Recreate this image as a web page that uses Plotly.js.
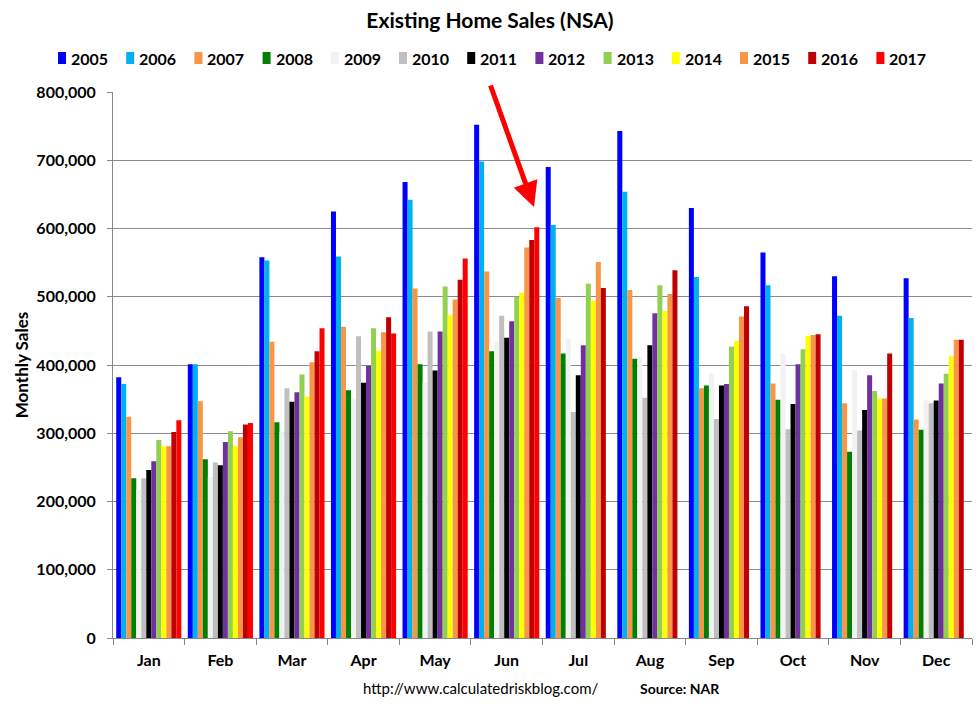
<!DOCTYPE html>
<html>
<head>
<meta charset="utf-8">
<script src="https://cdn.plot.ly/plotly-3.0.1.min.js"></script>
<style>html,body{margin:0;padding:0;background:#fff;}#chart{width:980px;height:704px;}</style>
</head>
<body>
<div id="chart"></div>
<script>
const months = ["Jan","Feb","Mar","Apr","May","Jun","Jul","Aug","Sep","Oct","Nov","Dec"];
const years = ["2005","2006","2007","2008","2009","2010","2011","2012","2013","2014","2015","2016","2017"];
const colors = ["#0000FF","#00B0F0","#F79646","#008000","#F2F2F2","#BFBFBF","#000000","#7030A0","#92D050","#FFFF00","#F79646","#C00000","#FF0000"];

// Monthly sales, thousands
const s2005 = [382, 401, 558, 625, 668, 752, 690, 743, 630, 565, 530, 527];
const s2006 = [372, 401, 553, 559, 642, 698, 605, 654, 529, 517, 472, 469];
const s2007 = [324, 347, 434, 456, 512, 537, 498, 510, 366, 373, 344, 320];
const s2008 = [234, 262, 316, 363, 401, 420, 417, 409, 370, 349, 273, 305];
const s2009 = [217, 236, 302, 350, 374, 435, 438, 412, 387, 417, 393, 348];
const s2010 = [234, 257, 366, 442, 449, 472, 331, 352, 321, 306, 304, 344];
const s2011 = [246, 253, 346, 374, 392, 440, 385, 429, 370, 343, 334, 348];
const s2012 = [259, 287, 360, 399, 449, 464, 429, 476, 372, 401, 385, 373];
const s2013 = [290, 303, 386, 454, 515, 500, 519, 517, 427, 423, 362, 387];
const s2014 = [281, 281, 354, 421, 473, 506, 494, 479, 435, 443, 351, 413];
const s2015 = [281, 294, 404, 448, 496, 572, 551, 504, 471, 444, 351, 437];
const s2016 = [302, 313, 420, 470, 525, 583, 513, 539, 486, 445, 417, 437];
const s2017 = [319, 315, 454, 446, 556, 602, null, null, null, null, null, null];

const series = [s2005,s2006,s2007,s2008,s2009,s2010,s2011,s2012,s2013,s2014,s2015,s2016,s2017];

const FONT = "Lato, 'Open Sans', sans-serif";
const W = 980, H = 704;
const M = {l: 113, r: 8, t: 92, b: 66};
const PW = W - M.l - M.r, PH = H - M.t - M.b;
const px2x = px => (px - M.l) / PW;
const py2y = py => (H - M.b - py) / PH;

const traces = series.map((vals, i) => ({
  type: "bar",
  name: years[i],
  x: months,
  y: vals.map(v => v === null ? null : v * 1000),
  marker: {color: colors[i], line: {width: 0}},
  showlegend: false,
  hoverinfo: "x+y+name"
}));

// Legend row built from the years / colors arrays
const legendShapes = [];
const legendAnns = [];
const LEG_X0 = 58, LEG_STEP = 68.2, LEG_Y = 58;
years.forEach((yr, i) => {
  const sx = LEG_X0 + LEG_STEP * i;
  legendShapes.push({type: "rect", xref: "paper", yref: "paper",
    x0: px2x(sx), x1: px2x(sx + 8), y0: py2y(LEG_Y + 6), y1: py2y(LEG_Y - 6),
    fillcolor: colors[i], line: {width: 0}, layer: "above"});
  legendAnns.push({xref: "paper", yref: "paper", x: px2x(sx + 11), y: py2y(LEG_Y),
    xanchor: "left", yanchor: "middle", showarrow: false, text: "<b>" + yr + "</b>",
    font: {family: FONT, size: 16, color: "#000"}});
});

const layout = {
  width: W, height: H,
  margin: M,
  paper_bgcolor: "#fff", plot_bgcolor: "#fff",
  font: {family: FONT, color: "#000"},
  title: {text: "Existing Home Sales (NSA)", font: {family: FONT, size: 21, weight: 700, color: "#000"},
          x: 0.5, xanchor: "center", y: 0.971, yanchor: "middle", yref: "container"},
  barmode: "group",
  bargap: 0.09,
  bargroupgap: 0,
  showlegend: false,
  xaxis: {type: "category", categoryorder: "array", categoryarray: months,
          tickfont: {family: FONT, size: 16, weight: 700, color: "#000"},
          ticks: "outside", tickson: "boundaries", ticklen: 6, tickcolor: "#888",
          ticklabelstandoff: 8,
          showline: true, linecolor: "#888", linewidth: 1, showgrid: false, fixedrange: true},
  yaxis: {range: [0, 800000], dtick: 100000, tickformat: ",d",
          tickfont: {family: FONT, size: 16, weight: 700, color: "#000"},
          ticks: "outside", ticklen: 5, tickcolor: "#888", ticklabelstandoff: 8,
          showline: true, linecolor: "#888", linewidth: 1,
          showgrid: true, gridcolor: "#8c8c8c", gridwidth: 1, zeroline: false,
          title: {text: "Monthly Sales", font: {family: FONT, size: 17, weight: 700, color: "#000"}, standoff: 3}},
  shapes: legendShapes,
  annotations: legendAnns.concat([
    {xref: "paper", yref: "paper", x: px2x(480), y: py2y(688), text: "http://www.calculatedriskblog.com/",
     showarrow: false, xanchor: "center", yanchor: "middle", font: {family: FONT, size: 15, color: "#000"}},
    {xref: "paper", yref: "paper", x: px2x(680), y: py2y(688), text: "<b>Source: NAR</b>",
     showarrow: false, xanchor: "center", yanchor: "middle", font: {family: FONT, size: 14, color: "#000"}},
    {xref: "paper", yref: "paper", x: px2x(534), y: py2y(207), ax: -44, ay: -123, text: "",
     showarrow: true, arrowhead: 2, arrowsize: 1, arrowwidth: 5, arrowcolor: "#FF0000"}
  ])
};

Plotly.newPlot("chart", traces, layout, {displayModeBar: false, staticPlot: true});
</script>
</body>
</html>
